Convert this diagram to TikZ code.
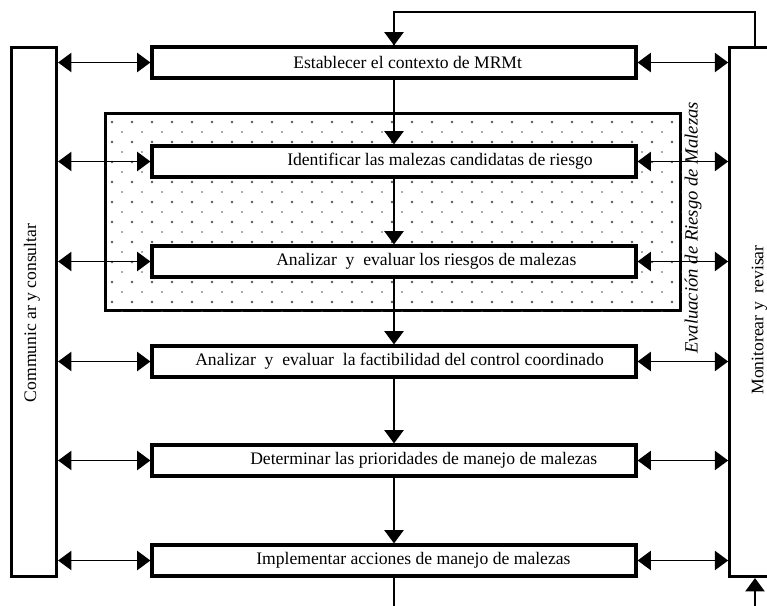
\documentclass[tikz,border=0pt]{standalone}
\usepackage{fontspec}
\setmainfont{Liberation Serif}
\usetikzlibrary{arrows.meta}
\begin{document}
\begin{tikzpicture}[x=0.75pt,y=-0.75pt,
  box/.style={draw,line width=2.4pt,fill=white,minimum width=363pt,minimum height=23.25pt,inner sep=0pt},
  side/.style={draw,line width=2.4pt,fill=white,minimum height=396.75pt,inner sep=0pt},
  region/.style={draw,line width=2.2pt,minimum width=431.25pt,minimum height=147.75pt,inner sep=0pt},
  txt/.style={inner sep=0pt,font=\fontsize{13.2}{15}\selectfont},
  conn/.style={line width=1.1pt},
  arr/.style={conn,-{Triangle[length=10pt,width=14.5pt]}},
  dbl/.style={conn,{Triangle[length=10pt,width=14.5pt]}-{Triangle[length=10pt,width=14.5pt]}}]
\useasboundingbox (0,0) rectangle (767,606);
\clip (0,0) rectangle (767,606);
\fill[white] (0,0) rectangle (767,606);
% dotted evaluation region
\node[region] (eval) at (393,212) {};
\begin{scope}
\clip (eval.north west) rectangle (eval.south east);
\foreach \r in {0,...,19} {
  \pgfmathsetmacro\yy{122+10*\r}
  \pgfmathsetmacro\xo{mod(\r,2)*10}
  \pgfmathsetmacro\rad{mod(\r,2)==0 ? 0.95 : 0.7}
  \foreach \c in {0,...,29} {
    \fill[black!65] (112+\xo+20*\c,\yy) circle (\rad pt);
  }
}
\end{scope}
% side boxes
\node[side,minimum width=33.75pt] (L) at (34,312) {};
\node[side,minimum width=45pt] (R) at (759.75,312) {};
% process boxes
\node[box] (b1) at (394,62.5) {};
\node[box] (b2) at (394,161.5) {};
\node[box] (b3) at (394,261.5) {};
\node[box] (b4) at (394,361.5) {};
\node[box] (b5) at (394,460.5) {};
\node[box] (b6) at (394,560.5) {};
% texts
\node[txt,anchor=west] (t1) at (293,62.5) {Establecer el contexto de MRMt};
\node[txt,anchor=west] (t2) at (287,161.5) {Identificar las malezas candidatas de riesgo};
\node[txt,anchor=west] (t3) at (276,261.5) {Analizar\ \ y\ \ evaluar los riesgos de malezas};
\node[txt,anchor=west] (t4) at (195,361.5) {Analizar\ \ y\ \ evaluar\ \ la factibilidad del control coordinado};
\node[txt,anchor=west] (t5) at (250,460.5) {Determinar las prioridades de manejo de malezas};
\node[txt,anchor=west] (t6) at (256,560.5) {Implementar acciones de manejo de malezas};
\node[txt,rotate=90] (tl) at (32,313) {Communic ar y consultar};
\node[txt,rotate=90] (tr) at (759.5,320) {Monitorear y\ \ revisar};
\node[txt,font=\fontsize{14}{16}\selectfont\itshape,rotate=90] (te) at (693,228) {Evaluación de Riesgo de Malezas};
% vertical flow
\draw[arr] (b1.south) -- (b2.north);
\draw[arr] (b2.south) -- (b3.north);
\draw[arr] (b3.south) -- (b4.north);
\draw[arr] (b4.south) -- (b5.north);
\draw[arr] (b5.south) -- (b6.north);
\coordinate (bot) at (394,612);
\draw[conn] (b6.south) -- (b6.south |- bot);
% feedback
\coordinate (fb) at (755,12);
\draw[line width=0.9pt] (fb |- R.north) -- (fb) -| (b1.north);
\draw[arr] (b1.north |- fb) -- (b1.north);
\coordinate (bot2) at (755,612);
\draw[arr] (bot2) -- (bot2 |- R.south);
% double arrows to the side boxes
\foreach \b in {b1,b2,b3,b4,b5,b6} {
  \draw[dbl] (\b.west -| L.east) -- (\b.west);
  \draw[dbl] (\b.east) -- (\b.east -| R.west);
}
\end{tikzpicture}
\end{document}
